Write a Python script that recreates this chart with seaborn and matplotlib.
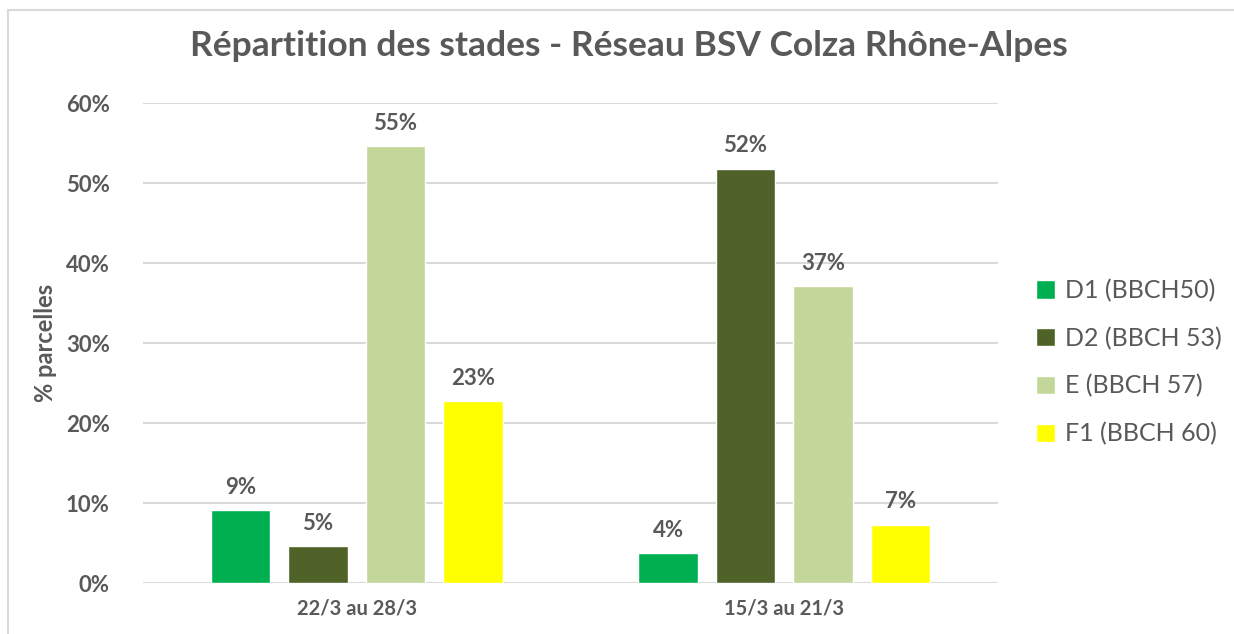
import numpy as np
import pandas as pd
import seaborn as sns
import matplotlib.pyplot as plt
from matplotlib.patches import Rectangle

# data (% of plots)
periods = ["22/3 au 28/3", "15/3 au 21/3"]
stades = ["D1 (BBCH50)", "D2 (BBCH 53)", "E (BBCH 57)", "F1 (BBCH 60)"]
d1 = [9.1, 3.7]
d2 = [4.6, 51.8]
e = [54.6, 37.1]
f1 = [22.7, 7.3]
colors = ["#00B050", "#4F6228", "#C4D79B", "#FFFF00"]

rows = []
for s, vals in zip(stades, [d1, d2, e, f1]):
    for p, v in zip(periods, vals):
        rows.append({"periode": p, "stade": s, "pct": v})
df = pd.DataFrame(rows)

sns.set_theme(style="white")
plt.rcParams['font.family'] = ['Lato', 'DejaVu Sans']
txt = "#595959"

fig = plt.figure(figsize=(12.34, 6.34), dpi=100)
ax = fig.add_axes([143 / 1234, 51 / 634, 855 / 1234, 480 / 634])

sns.barplot(data=df, x="periode", y="pct", hue="stade", order=periods,
            hue_order=stades, palette=colors, width=0.724, gap=0.23,
            saturation=1, ax=ax)

for c in ax.containers:
    ax.bar_label(c, fmt="%.0f%%", padding=9, fontsize=16, fontweight="bold",
                 color=txt, clip_on=False)

ax.set_ylim(0, 60)
ax.set_xlim(-0.5, 1.5)
ax.set_yticks(np.arange(0, 61, 10))
ax.set_yticklabels([f"{v}%" for v in range(0, 61, 10)])
ax.yaxis.grid(True, color="#D9D9D9", linewidth=1.5)
ax.set_axisbelow(True)
for sp in ax.spines.values():
    sp.set_visible(False)
ax.tick_params(axis="y", labelsize=16, labelcolor=txt, length=0, pad=24)
ax.tick_params(axis="x", labelsize=14.5, labelcolor=txt, length=0, pad=11)
for lab in ax.get_xticklabels() + ax.get_yticklabels():
    lab.set_fontweight("bold")
ax.set_xlabel("")
ax.set_ylabel("% parcelles", fontsize=17, color=txt, fontweight="bold", labelpad=6)

fig.suptitle("Répartition des stades - Réseau BSV Colza Rhône-Alpes",
             x=0.51, y=0.953, fontsize=25.5, fontweight="bold", color=txt)

leg = ax.legend(loc="center left", bbox_to_anchor=(1.018, 0.46), frameon=False,
                fontsize=18, handlelength=0.75, handleheight=0.75,
                handletextpad=0.4, labelspacing=0.98)
for t in leg.get_texts():
    t.set_color(txt)

fig.patches.append(Rectangle((8 / 1234, -0.1), 1.2, 1.1 - 10 / 634,
                             transform=fig.transFigure, fill=False,
                             edgecolor="#D9D9D9", linewidth=1.5))

fig.savefig("out.png", dpi=100)
